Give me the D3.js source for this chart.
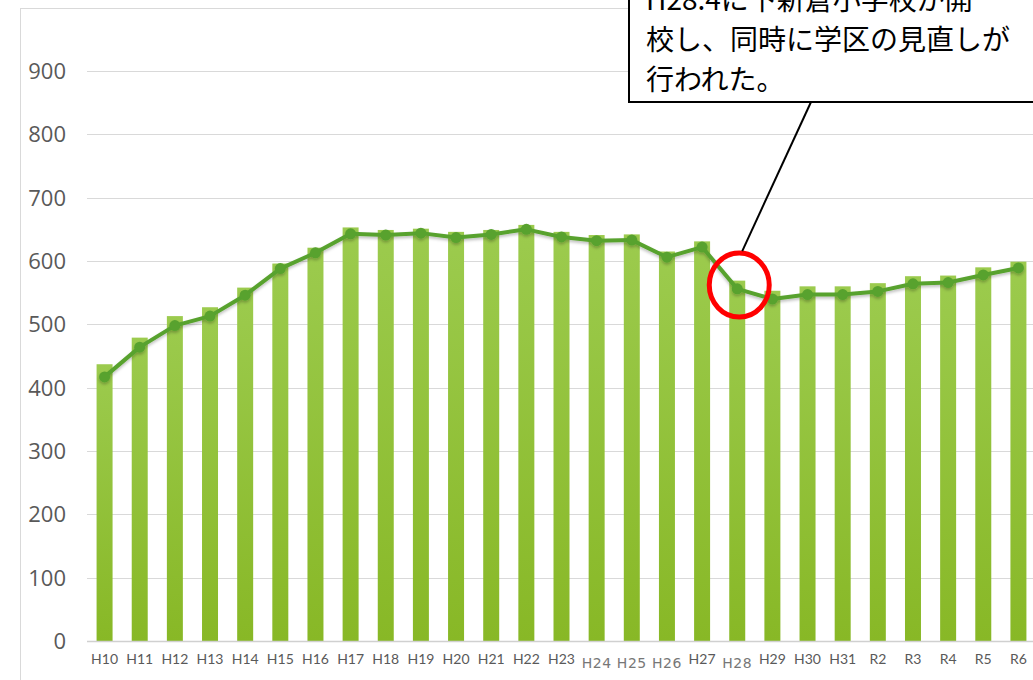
<!DOCTYPE html>
<html>
<head>
<meta charset="utf-8">
<script src="https://cdn.jsdelivr.net/npm/d3@7"></script>
<style>
  html, body { margin: 0; padding: 0; background: #fff; }
  #chart svg { display: block; }
  .axis-y text { font-family: "Open Sans", "Noto Sans", sans-serif; font-size: 22px; fill: #595959; }
  .axis-x text { font-family: Lato, "Open Sans", sans-serif; font-size: 14px; fill: #595959; }
  .note { font-family: "Noto Sans CJK JP", sans-serif; font-size: 28px; fill: #000; }
</style>
</head>
<body>
<div id="chart"></div>
<script>
// categories (fiscal years)
const years = ["H10","H11","H12","H13","H14","H15","H16","H17","H18","H19","H20","H21","H22","H23",
  "H24","H25","H26","H27","H28","H29","H30","H31","R2","R3","R4","R5","R6"];
// bar series
const barValues = [437,479,513,527,558,596,621,653,649,651,646,649,657,646,641,642,615,631,569,553,560,560,565,576,577,590,599];
// line series
const lineValues = [417,464,498,513,546,588,613,643,641,644,637,642,650,638,632,633,606,622,556,540,547,547,552,564,566,578,589];
// y tick labels
const yTicks = [0,100,200,300,400,500,600,700,800,900];
// labels drawn in a different font in the original
const oddLabels = ["H24","H25","H26","H28"];
const noteLines = ["H28.4に下新倉小学校が開", "校し、同時に学区の見直しが", "行われた。"];

const width = 1033, height = 680;

const svg = d3.select("#chart")
  .append("svg")
  .attr("width", width)
  .attr("height", height);

const defs = svg.append("defs");
const grad = defs.append("linearGradient")
  .attr("id", "barGrad")
  .attr("x1", 0).attr("y1", 0).attr("x2", 0).attr("y2", 1);
grad.append("stop").attr("offset", "0%").attr("stop-color", "#9ccb4e");
grad.append("stop").attr("offset", "100%").attr("stop-color", "#88b826");

const shadow = defs.append("filter").attr("id", "shadow")
  .attr("x", "-10%").attr("y", "-10%").attr("width", "120%").attr("height", "140%");
shadow.append("feDropShadow")
  .attr("dx", 0).attr("dy", 2).attr("stdDeviation", 1.5)
  .attr("flood-color", "#000").attr("flood-opacity", 0.25);

// chart frame
svg.append("rect")
  .attr("x", 20.5).attr("y", 8.5)
  .attr("width", 1100).attr("height", 700)
  .attr("fill", "none")
  .attr("stroke", "#d9d9d9");

const xScale = d3.scaleBand()
  .domain(years)
  .range([87, 1036])
  .paddingInner(0.545)
  .paddingOuter(0.2725);

const yScale = d3.scaleLinear()
  .domain([0, 900])
  .range([641, 71]);

// gridlines
svg.append("g")
  .selectAll("line")
  .data(yTicks.filter(d => d > 0))
  .join("line")
    .attr("x1", 87).attr("x2", 1036)
    .attr("y1", d => Math.round(yScale(d)) + 0.5)
    .attr("y2", d => Math.round(yScale(d)) + 0.5)
    .attr("stroke", "#d9d9d9")
    .attr("stroke-width", 1);

// y labels
svg.append("g")
  .attr("class", "axis-y")
  .selectAll("text")
  .data(yTicks)
  .join("text")
    .attr("x", 66)
    .attr("y", d => yScale(d))
    .attr("dy", "0.36em")
    .attr("text-anchor", "end")
    .text(d => d);

// bars
svg.append("g")
  .selectAll("rect")
  .data(years.map((y, i) => ({ year: y, value: barValues[i] })))
  .join("rect")
    .attr("x", d => xScale(d.year))
    .attr("y", d => yScale(d.value))
    .attr("width", xScale.bandwidth())
    .attr("height", d => yScale(0) - yScale(d.value))
    .attr("fill", "url(#barGrad)");

// x axis line
svg.append("line")
  .attr("x1", 87).attr("x2", 1036)
  .attr("y1", 641.5).attr("y2", 641.5)
  .attr("stroke", "#d0d0d0")
  .attr("stroke-width", 1.5);

// x labels
svg.append("g")
  .attr("class", "axis-x")
  .selectAll("text")
  .data(years)
  .join("text")
    .attr("x", d => xScale(d) + xScale.bandwidth() / 2)
    .attr("y", d => oddLabels.includes(d) ? 668 : 664)
    .attr("text-anchor", "middle")
    .style("font-family", d => oddLabels.includes(d) ? "'DejaVu Sans', sans-serif" : null)
    .style("font-size", d => oddLabels.includes(d) ? "14px" : null)
    .style("letter-spacing", d => oddLabels.includes(d) ? "0.5px" : null)
    .style("fill", d => oddLabels.includes(d) ? "#777" : null)
    .text(d => d);

// line series
const lineData = years.map((y, i) => ({ year: y, value: lineValues[i] }));
const lineGen = d3.line()
  .x(d => xScale(d.year) + xScale.bandwidth() / 2)
  .y(d => yScale(d.value));

const lineG = svg.append("g").attr("filter", "url(#shadow)");
lineG.append("path")
  .datum(lineData)
  .attr("d", lineGen)
  .attr("fill", "none")
  .attr("stroke", "#58a22f")
  .attr("stroke-width", 4)
  .attr("stroke-linejoin", "round");

lineG.selectAll("circle")
  .data(lineData)
  .join("circle")
    .attr("cx", d => xScale(d.year) + xScale.bandwidth() / 2)
    .attr("cy", d => yScale(d.value))
    .attr("r", 5.5)
    .attr("fill", "#58a22f");

// annotation: red circle around H28
const cx = xScale("H28") + xScale.bandwidth() / 2 + 2;
const cy = yScale(562);
svg.append("ellipse")
  .attr("cx", cx).attr("cy", cy)
  .attr("rx", 30).attr("ry", 32)
  .attr("fill", "none")
  .attr("stroke", "#ff0000")
  .attr("stroke-width", 5);

// callout line
svg.append("line")
  .attr("x1", cx + 3).attr("y1", cy - 34)
  .attr("x2", 811).attr("y2", 102)
  .attr("stroke", "#000")
  .attr("stroke-width", 2);

// callout box
svg.append("rect")
  .attr("x", 629).attr("y", -60)
  .attr("width", 500).attr("height", 162)
  .attr("fill", "#fff")
  .attr("stroke", "#000")
  .attr("stroke-width", 2);

svg.append("g")
  .selectAll("text")
  .data(noteLines)
  .join("text")
    .attr("class", "note")
    .attr("x", 646)
    .attr("y", (d, i) => 10 + i * 40)
    .text(d => d);
</script>
</body>
</html>
